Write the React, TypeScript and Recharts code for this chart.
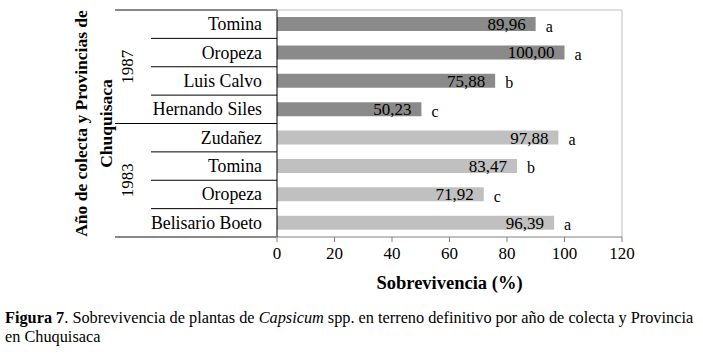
import { BarChart, Bar, XAxis, YAxis, CartesianGrid, LabelList, Cell, Label } from "recharts";

// survival of Capsicum plants by collection year and province
const provinces = ["Tomina", "Oropeza", "Luis Calvo", "Hernando Siles", "Zudañez", "Tomina", "Oropeza", "Belisario Boeto"];
const years = ["1987", "1987", "1987", "1987", "1983", "1983", "1983", "1983"];
const survival = [89.96, 100.0, 75.88, 50.23, 97.88, 83.47, 71.92, 96.39];
const letters = ["a", "a", "b", "c", "a", "b", "c", "a"];
const xTicks = [0, 20, 40, 60, 80, 100, 120];

const yearColors: Record<string, string> = { "1987": "#8a8a8a", "1983": "#c0c0c0" };

const data = provinces.map((p, i) => ({
  key: `${years[i]} ${p}`,
  value: survival[i],
  letter: letters[i],
  year: years[i],
}));

const FONT = "'Times New Roman', 'Liberation Serif', serif";
const W = 703;
const H = 300;
const TOP = 10;
const Y_AXIS_W = 277;
const X_AXIS_H = 60;
const MARGIN = { top: TOP, right: 81, left: 0, bottom: 3 };
const PLOT_H = H - MARGIN.top - MARGIN.bottom - X_AXIS_H;
const INNER_X = 151;
const OUTER_X = 115;
const YEAR_X = 127;

const fmt = (v: any) => Number(v).toFixed(2).replace(".", ",");

function ProvinceTick(props: any) {
  const { y, index } = props;
  const n = provinces.length;
  const rowH = PLOT_H / n;
  const groupEnd = index === n - 1 || years[index] !== years[index + 1];
  const groupStart = index === 0 || years[index] !== years[index - 1];
  let count = 0;
  if (groupStart) {
    for (let j = index; j < n && years[j] === years[index]; j++) count++;
  }
  const yearY = y - rowH / 2 + (count * rowH) / 2;
  const bottomY = y + rowH / 2;
  const last = index === n - 1;
  return (
    <g>
      {index === 0 && (
        <line x1={OUTER_X} x2={Y_AXIS_W} y1={y - rowH / 2} y2={y - rowH / 2} stroke="#888" strokeWidth={2} />
      )}
      <line
        x1={groupEnd ? OUTER_X : INNER_X}
        x2={Y_AXIS_W}
        y1={bottomY}
        y2={bottomY}
        stroke={last ? "#888" : "#000"}
        strokeWidth={last ? 2 : 1}
      />
      <text x={Y_AXIS_W - 15} y={y} textAnchor="end" dominantBaseline="central" fontSize={17.8} fontFamily={FONT} fill="#000">
        {provinces[index]}
      </text>
      {groupStart && (
        <text
          x={YEAR_X}
          y={yearY}
          transform={`rotate(-90 ${YEAR_X} ${yearY})`}
          textAnchor="middle"
          dominantBaseline="central"
          fontSize={17}
          fontFamily={FONT}
          fill="#000"
        >
          {years[index]}
        </text>
      )}
    </g>
  );
}

function YTitle(props: any) {
  const vb = props.viewBox || {};
  const cy = (vb.y ?? TOP) + (vb.height ?? PLOT_H) / 2;
  return (
    <g fontFamily={FONT} fontWeight="bold" fontSize={17.5} fill="#000">
      <text x={81} y={cy} transform={`rotate(-90 81 ${cy})`} textAnchor="middle" dominantBaseline="central">
        Año de colecta y Provincias de
      </text>
      <text x={106} y={cy} transform={`rotate(-90 106 ${cy})`} textAnchor="middle" dominantBaseline="central">
        Chuquisaca
      </text>
    </g>
  );
}

function LetterLabel(props: any) {
  const { x, y, width, height, value } = props;
  return (
    <text x={x + width + 10} y={y + height / 2 + 2} dominantBaseline="central" fontSize={16} fontFamily={FONT} fill="#000">
      {value}
    </text>
  );
}

export default function App() {
  return (
    <div style={{ position: "absolute", left: 0, top: 0, width: W, height: 354, background: "#fff", fontFamily: FONT }}>
      <BarChart width={W} height={H} data={data} layout="vertical" margin={MARGIN} barSize={14}>
        <CartesianGrid
          stroke="#c0c0c0"
          horizontalCoordinatesGenerator={(p: any) => [p.offset.top]}
          verticalCoordinatesGenerator={(p: any) => [p.offset.left + p.offset.width]}
        />
        <XAxis
          type="number"
          domain={[0, 120]}
          ticks={xTicks}
          height={X_AXIS_H}
          tickSize={5}
          tickMargin={5}
          stroke="#808080"
          axisLine={{ stroke: "#808080" }}
          tickLine={{ stroke: "#808080" }}
          tick={{ fill: "#000", fontSize: 17, fontFamily: FONT }}
        >
          <Label
            value="Sobrevivencia (%)"
            position="insideBottom"
            offset={8}
            style={{ fill: "#000", fontSize: 18.5, fontWeight: "bold", fontFamily: FONT }}
          />
        </XAxis>
        <YAxis
          type="category"
          dataKey="key"
          width={Y_AXIS_W}
          axisLine={{ stroke: "#000" }}
          tickLine={false}
          tick={<ProvinceTick />}
          interval={0}
          label={<YTitle />}
        />
        <Bar dataKey="value" isAnimationActive={false}>
          {data.map((d, i) => (
            <Cell key={i} fill={yearColors[d.year]} />
          ))}
          <LabelList
            dataKey="value"
            position="insideRight"
            offset={10}
            formatter={fmt}
            style={{ fill: "#000", fontSize: 17, fontFamily: FONT }}
          />
          <LabelList dataKey="letter" content={<LetterLabel />} />
        </Bar>
      </BarChart>
      <div
        style={{
          position: "absolute",
          left: 5,
          top: 308,
          fontSize: 16.3,
          lineHeight: "19px",
          whiteSpace: "nowrap",
          color: "#000",
        }}
      >
        <b>Figura 7</b>. Sobrevivencia de plantas de <i>Capsicum</i> spp. en terreno definitivo por año de colecta y Provincia
        <br />
        en Chuquisaca
      </div>
    </div>
  );
}
